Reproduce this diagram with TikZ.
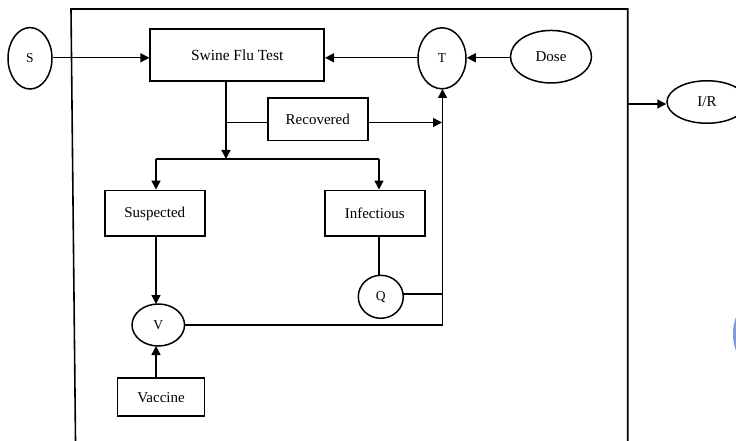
\documentclass[tikz,border=0pt]{standalone}
\usepackage{fontspec}
\setmainfont{Liberation Serif}
\usetikzlibrary{arrows.meta,shapes.geometric,calc}
\definecolor{arcblue}{RGB}{125,155,210}
\tikzset{
 x=1pt,y=-1pt,
 every node/.style={font=\fontsize{15}{17}\selectfont},
 boxn/.style={draw,line width=1.9pt,rectangle,inner sep=0pt,minimum width=#1},
 ell/.style={draw,line width=1.5pt,ellipse,inner sep=0pt},
 small/.style={font=\fontsize{13.5}{15}\selectfont},
 link/.style={line width=1.4pt},
 arr/.style={link,-{Triangle[length=9pt,width=9pt]}},
 frameline/.style={line width=1.6pt},
}
\begin{document}
\begin{tikzpicture}
\useasboundingbox (0,0) rectangle (736,441);
\fill[white] (0,0) rectangle (736,441);
% frame
\coordinate (fbl) at (75.5,441);
\coordinate (ftl) at (71,9);
\coordinate (ftr) at (627.7,9);
\coordinate (fbr) at (627.7,441);
\draw[frameline] (fbl) -- (ftl) -- (ftr) -- (fbr);
% nodes
\node[boxn=173.7pt,minimum height=52.7pt,font=\fontsize{15.4}{17}\selectfont,text depth=0pt,yshift=-0.6pt] (test) at (237.2,54.4) {Swine Flu Test};
\node[boxn=100.5pt,minimum height=42.5pt] (rec) at (317.8,119.3) {\raisebox{-1pt}{Recovered}};
\node[boxn=99.5pt,minimum height=45.8pt] (sus) at (154.8,213.4) {Suspected};
\node[boxn=99.5pt,minimum height=45.8pt] (inf) at (374.8,213.4) {Infectious};
\node[boxn=87pt,minimum height=38.3pt] (vac) at (161,397.2) {Vaccine};
\node[ell,small,minimum width=44pt,minimum height=61.4pt] (s) at (30,58.3) {S};
\node[ell,small,minimum width=48pt,minimum height=61pt] (t) at (442,58.3) {T};
\node[ell,minimum width=81pt,minimum height=52.5pt] (dose) at (551,56.7) {Dose};
\node[ell,minimum width=80pt,minimum height=42.5pt] (ir) at (707,102) {I/R};
\node[ell,small,minimum width=45pt,minimum height=43pt] (q) at (380.8,296.8) {Q};
\node[ell,small,minimum width=52.5pt,minimum height=42pt] (v) at (158.3,325) {V};
% helper coordinates
\coordinate (rail) at (442.5,325);
\coordinate (fr) at (627.7,104);
\coordinate (drop) at (226,159);
\coordinate (barl) at (156,159);
\coordinate (barr) at (379,159);
\coordinate (recl) at (226,122.5);
\coordinate (recr) at (442,122.5);
% connectors
\draw[arr] (s.east |- 0,57.8) -- (test.west |- 0,57.8);
\draw[arr] (t.west |- 0,57.8) -- (test.east |- 0,57.8);
\draw[arr] (dose.west |- 0,57.8) -- (t.east |- 0,57.8);
\draw[arr] (fr) -- (ir.west |- fr);
\draw[arr] (226,80.7) -- (drop);
\draw[link] (rec.west |- recl) -- (recl);
\draw[arr] (rec.east |- recr) -- (recr);
\draw[link] (barr |- drop) -- (barl |- drop);
\draw[arr] (barl) -- (barl |- sus.north);
\draw[arr] (barr) -- (barr |- inf.north);
\draw[arr] (156,236.3) -- (156,304);
\draw[arr] (156,378) -- (156,346);
\draw[link] (379,236.3) -- (379,275.4);
\draw[link] (v.east) -- (rail);
\draw[arr] (rail) -- (442.5,89);
\draw[link] (403.3,294) -- (442.5,294);
% cropped blue circle at the page edge
\fill[arcblue] (782.7,334) circle [radius=49.7pt];
\end{tikzpicture}
\end{document}
